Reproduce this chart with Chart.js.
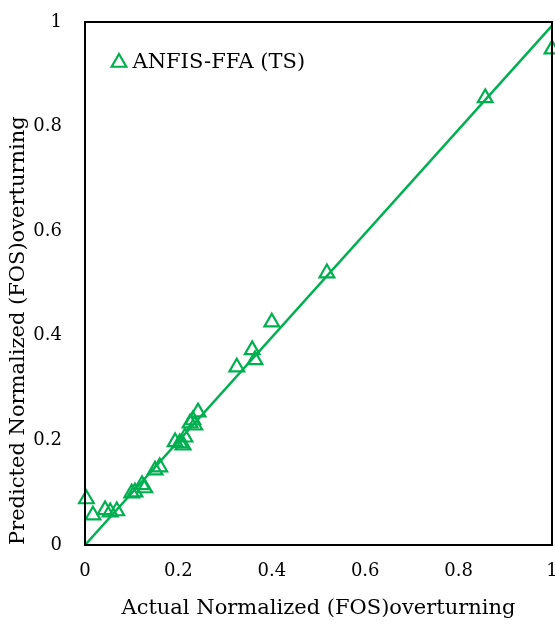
<!DOCTYPE html>
<html>
<head>
<meta charset="utf-8">
<script src="https://cdn.jsdelivr.net/npm/chart.js@4/dist/chart.umd.min.js"></script>
<style>
  html, body { margin: 0; padding: 0; background: #fff; overflow: hidden; }
  #wrap { width: 560px; height: 624px; }
</style>
</head>
<body>
<div id="wrap"><canvas id="fos"></canvas></div>
<script>
// normalized factor of safety (overturning), testing set
const actualFos = [0.003, 0.017, 0.043, 0.054, 0.068, 0.100, 0.107, 0.122, 0.128,
  0.150, 0.160, 0.193, 0.203, 0.210, 0.214, 0.225, 0.231, 0.235, 0.242,
  0.325, 0.358, 0.364, 0.400, 0.518, 0.857, 1.000];
const predictedFos = [0.088, 0.057, 0.067, 0.063, 0.065, 0.099, 0.101, 0.115, 0.109,
  0.143, 0.149, 0.197, 0.195, 0.191, 0.206, 0.233, 0.239, 0.229, 0.254,
  0.340, 0.373, 0.354, 0.426, 0.520, 0.855, 0.948];
// linear trend line end points
const trendX = [0, 1];
const trendY = [0, 0.993];
const axisTicks = [0, 0.2, 0.4, 0.6, 0.8, 1];

const green = '#00B050';
const serif = "'DejaVu Serif', 'Liberation Serif', serif";

const frame = {
  id: 'frame',
  afterDatasetsDraw(chart) {
    const a = chart.chartArea;
    const ctx = chart.ctx;
    ctx.save();
    ctx.strokeStyle = '#000';
    ctx.lineWidth = 2;
    ctx.strokeRect(a.left, a.top, a.right - a.left, a.bottom - a.top);
    ctx.restore();
  }
};

// fixed axis sizes; tick padding should not eat into the plot area
function fitX(s) {
  s.height = 79;
  s.paddingLeft = 0;
  s.paddingRight = 0;
}
function fitY(s) {
  s.width = 85;
  s.paddingTop = 0;
  s.paddingBottom = 0;
}

new Chart(document.getElementById('fos'), {
  type: 'scatter',
  data: {
    datasets: [
      {
        label: 'ANFIS-FFA (TS)',
        data: actualFos.map((x, i) => ({ x: x, y: predictedFos[i] })),
        pointStyle: 'triangle',
        radius: 8.5,
        borderColor: green,
        backgroundColor: 'rgba(0,0,0,0)',
        borderWidth: 2.2,
        clip: false
      },
      {
        label: 'trend',
        type: 'line',
        data: trendX.map((x, i) => ({ x: x, y: trendY[i] })),
        borderColor: green,
        borderWidth: 2.5,
        pointRadius: 0,
        fill: false
      }
    ]
  },
  options: {
    responsive: true,
    maintainAspectRatio: false,
    animation: false,
    layout: { autoPadding: false, padding: { top: 22, right: 8, left: 0, bottom: 0 } },
    scales: {
      x: {
        type: 'linear',
        min: 0,
        max: 1,
        afterBuildTicks: (s) => { s.ticks = axisTicks.map(v => ({ value: v })); },
        afterFit: fitX,
        grid: { display: false, drawTicks: false },
        border: { display: false },
        ticks: {
          padding: 16,
          color: '#000',
          font: { family: serif, size: 18 },
          callback: (v) => String(v)
        },
        title: {
          display: true,
          text: 'Actual Normalized (FOS)overturning',
          color: '#000',
          font: { family: serif, size: 21 },
          padding: { top: 4, bottom: 3 }
        }
      },
      y: {
        type: 'linear',
        min: 0,
        max: 1,
        afterBuildTicks: (s) => { s.ticks = axisTicks.map(v => ({ value: v })); },
        afterFit: fitY,
        grid: { display: false, drawTicks: false },
        border: { display: false },
        ticks: {
          padding: 23,
          color: '#000',
          font: { family: serif, size: 18 },
          callback: (v) => String(v)
        },
        title: {
          display: true,
          align: 'start',
          text: 'Predicted Normalized (FOS)overturning',
          color: '#000',
          font: { family: serif, size: 21 },
          padding: { top: 6, bottom: 4 }
        }
      }
    },
    plugins: {
      legend: {
        position: 'chartArea',
        align: 'start',
        title: { display: true, text: ' ', font: { size: 10 }, padding: { top: 9, bottom: 0 } },
        labels: {
          filter: (item) => item.datasetIndex === 0,
          usePointStyle: true,
          boxWidth: 6,
          boxHeight: 12,
          padding: 31,
          color: '#000',
          font: { family: serif, size: 21 }
        }
      },
      tooltip: { enabled: false }
    }
  },
  plugins: [frame]
});
</script>
</body>
</html>
